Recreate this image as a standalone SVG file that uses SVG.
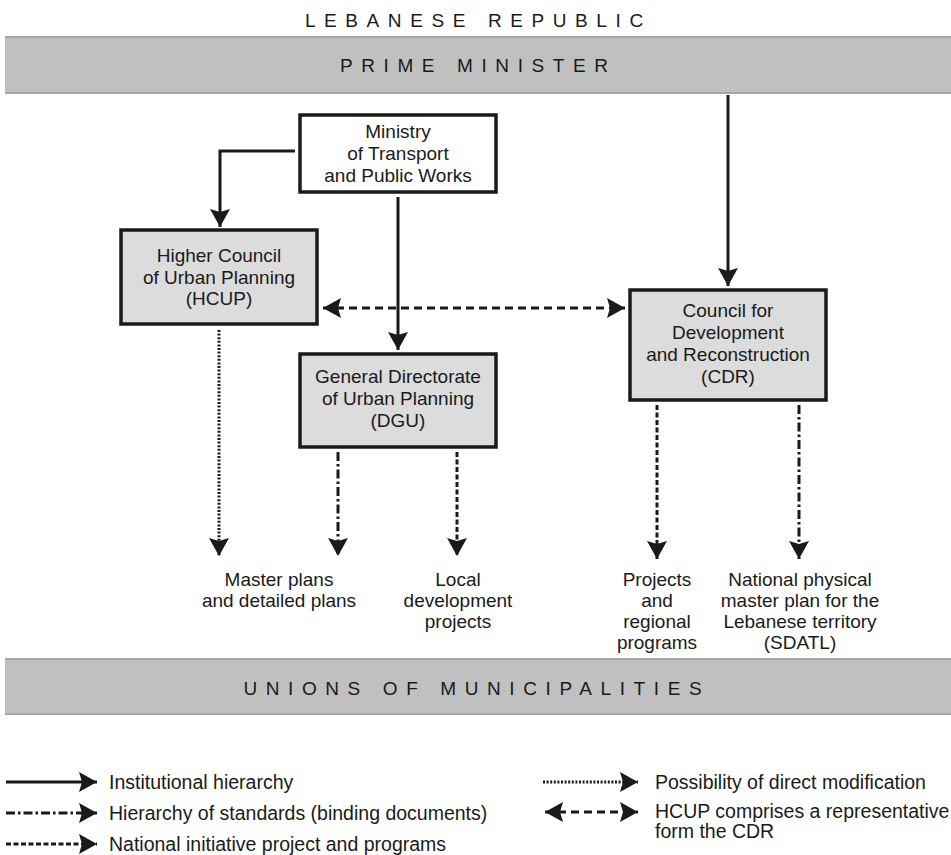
<svg xmlns="http://www.w3.org/2000/svg" width="951" height="855" viewBox="0 0 951 855">
<defs>
<style>
.band{fill:#c0c0c0}
.bandline{stroke:#a6a6a6;stroke-width:2}
.title{font-family:"Liberation Sans",Arial,sans-serif;font-size:19px;fill:#1a1a1a;text-anchor:middle;letter-spacing:8.6px}
.box{stroke:#1a1a1a;stroke-width:3.5}
.t{font-family:"Liberation Sans",Arial,sans-serif;font-size:19px;fill:#1a1a1a;text-anchor:middle}
.lab{font-family:"Liberation Sans",Arial,sans-serif;font-size:19px;fill:#1a1a1a;text-anchor:middle}
.leg{font-family:"Liberation Sans",Arial,sans-serif;font-size:19.5px;fill:#1a1a1a}
.ln{fill:none;stroke:#1a1a1a;stroke-width:3}
.dashed{stroke-dasharray:8 5}
.dotted{stroke-dasharray:2 1.6}
.dashdot{stroke-dasharray:9 3 2.5 3}
.shortdash{stroke-dasharray:5 2.5}
</style>
<marker id="arr" viewBox="0 0 18 20" refX="18" refY="10" markerWidth="18" markerHeight="20" markerUnits="userSpaceOnUse" orient="auto-start-reverse">
<path d="M0,0 L18,10 L0,20 L3,10 Z" fill="#1a1a1a"/>
</marker>
</defs>
<rect width="951" height="855" fill="#ffffff"/>

<g id="title">
<text class="title" x="478.3" y="26.5">LEBANESE REPUBLIC</text>
</g>
<g id="prime-minister">
<rect class="band" x="5" y="37" width="946" height="56"/>
<path class="bandline" d="M5,37 H951 M5,93 H951"/>
<text class="title" x="478.3" y="72">PRIME MINISTER</text>
</g>
<g id="ministry">
<rect class="box" x="300" y="115" width="196" height="77" fill="#ffffff"/>
<text class="t" x="398" y="137.5">Ministry</text>
<text class="t" x="398" y="159.5">of Transport</text>
<text class="t" x="398" y="181.5">and Public Works</text>
</g>
<g id="hcup">
<rect class="box" x="121" y="230" width="196" height="94" fill="#dcdcdc"/>
<text class="t" x="219" y="262">Higher Council</text>
<text class="t" x="219" y="283.5">of Urban Planning</text>
<text class="t" x="219" y="305">(HCUP)</text>
</g>
<g id="dgu">
<rect class="box" x="300" y="354" width="196" height="93" fill="#dcdcdc"/>
<text class="t" x="398" y="383">General Directorate</text>
<text class="t" x="398" y="405">of Urban Planning</text>
<text class="t" x="398" y="427">(DGU)</text>
</g>
<g id="cdr">
<rect class="box" x="630" y="290" width="196" height="110" fill="#dcdcdc"/>
<text class="t" x="728" y="317">Council for</text>
<text class="t" x="728" y="339">Development</text>
<text class="t" x="728" y="361">and Reconstruction</text>
<text class="t" x="728" y="383">(CDR)</text>
</g>
<g id="outputs">
<text class="lab" x="279" y="586">Master plans</text>
<text class="lab" x="279" y="607">and detailed plans</text>
<text class="lab" x="458" y="586">Local</text>
<text class="lab" x="458" y="607">development</text>
<text class="lab" x="458" y="628">projects</text>
<text class="lab" x="657" y="586">Projects</text>
<text class="lab" x="657" y="607">and</text>
<text class="lab" x="657" y="628">regional</text>
<text class="lab" x="657" y="649">programs</text>
<text class="lab" x="800" y="586">National physical</text>
<text class="lab" x="800" y="607">master plan for the</text>
<text class="lab" x="800" y="628">Lebanese territory</text>
<text class="lab" x="800" y="649">(SDATL)</text>
</g>
<g id="unions">
<rect class="band" x="5" y="659" width="946" height="55"/>
<path class="bandline" d="M5,659 H951 M5,714 H951"/>
<text class="title" x="476.8" y="695">UNIONS OF MUNICIPALITIES</text>
</g>

<g id="connectors">
<path class="ln" d="M295,151 H220 V227" marker-end="url(#arr)"/>
<path class="ln" d="M398,197 V350" marker-end="url(#arr)"/>
<path class="ln" d="M728,95 V286" marker-end="url(#arr)"/>
<path class="ln dashed" d="M323,308 H625" marker-start="url(#arr)" marker-end="url(#arr)"/>
<path class="ln dotted" d="M219,330 V556" marker-end="url(#arr)"/>
<path class="ln dashdot" d="M338,452 V556" marker-end="url(#arr)"/>
<path class="ln shortdash" d="M457,452 V556" marker-end="url(#arr)"/>
<path class="ln shortdash" d="M657,405 V559" marker-end="url(#arr)"/>
<path class="ln dashdot" d="M799,405 V559" marker-end="url(#arr)"/>
</g>

<g id="legend">
<path class="ln" d="M6,782 H97" marker-end="url(#arr)"/>
<text class="leg" x="109" y="789">Institutional hierarchy</text>
<path class="ln dashdot" d="M6,813 H97" marker-end="url(#arr)"/>
<text class="leg" x="109" y="820">Hierarchy of standards (binding documents)</text>
<path class="ln shortdash" d="M6,844 H97" marker-end="url(#arr)"/>
<text class="leg" x="109" y="851">National initiative project and programs</text>
<path class="ln dotted" d="M543,782 H638" marker-end="url(#arr)"/>
<text class="leg" x="655" y="789">Possibility of direct modification</text>
<path class="ln dashed" d="M545,812 H638" marker-start="url(#arr)" marker-end="url(#arr)"/>
<text class="leg" x="655" y="818">HCUP comprises a representative</text>
<text class="leg" x="655" y="838">form the CDR</text>
</g>
</svg>
